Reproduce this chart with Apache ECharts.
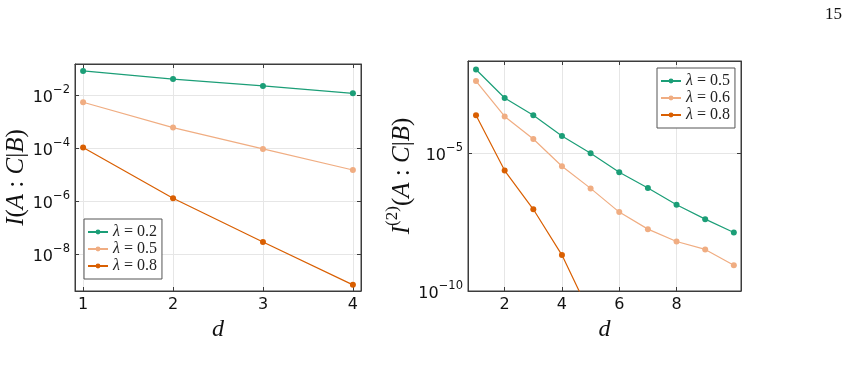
<!DOCTYPE html>
<html>
<head>
<meta charset="utf-8">
<script src="https://cdn.jsdelivr.net/npm/echarts@6/dist/echarts.min.js"></script>
<style>
  html, body { margin: 0; padding: 0; background: #fff; }
  #chart { width: 850px; height: 371px; }
</style>
</head>
<body>
<div id="chart"></div>
<script>
// left panel: I(A:C|B) vs d
const dLeft = [1, 2, 3, 4];
const leftNames = ['λ = 0.2', 'λ = 0.5', 'λ = 0.8'];
const leftL02 = [0.081, 0.040, 0.022, 0.0116];
const leftL05 = [5.3e-3, 5.9e-4, 9.2e-5, 1.47e-5];
const leftL08 = [1.05e-4, 1.26e-6, 2.8e-8, 6.8e-10];

// right panel: I^(2)(A:C|B) vs d
const dRight = [1, 2, 3, 4, 5, 6, 7, 8, 9, 10];
const rightNames = ['λ = 0.5', 'λ = 0.6', 'λ = 0.8'];
const rightL05 = [1.05e-2, 9.8e-4, 2.3e-4, 4.1e-5, 9.8e-6, 2.0e-6, 5.4e-7, 1.32e-7, 4.0e-8, 1.32e-8];
const rightL06 = [4.0e-3, 2.1e-4, 3.2e-5, 3.3e-6, 5.2e-7, 7.2e-8, 1.74e-8, 6.2e-9, 3.2e-9, 8.5e-10];
const rightL08 = [2.3e-4, 2.3e-6, 9.1e-8, 2.0e-9, 1.35e-11, null, null, null, null, null];

const leftYTicks = [-8, -6, -4, -2];
const rightYTicks = [-10, -5];
const leftXTicks = [1, 2, 3, 4];
const rightXTicks = [2, 4, 6, 8];

const colors = ['#1b9e77', '#f0ad82', '#d95f02'];
const serif = 'Liberation Serif';
const sans = 'DejaVu Sans';
const frame = '#3c3c3c';

function pairs(xs, ys) {
  return xs.map((x, i) => [x, ys[i] == null ? null : Math.log10(ys[i])]);
}

function powLabel(v) {
  const e = Math.round(v);
  return '{b|10}{s|' + (e < 0 ? '\u2212' : '') + Math.abs(e) + '}';
}

const powRich = {
  b: { fontFamily: sans, fontSize: 16, color: '#111', lineHeight: 22, verticalAlign: 'bottom' },
  s: { fontFamily: sans, fontSize: 11.5, color: '#111', lineHeight: 22, verticalAlign: 'top' }
};

const mathRich = {
  i: { fontFamily: serif, fontStyle: 'italic', fontSize: 25, color: '#111', lineHeight: 30, verticalAlign: 'bottom' },
  n: { fontFamily: serif, fontSize: 25, color: '#111', lineHeight: 30, verticalAlign: 'bottom' },
  sup: { fontFamily: serif, fontSize: 17, color: '#111', lineHeight: 30, verticalAlign: 'top' }
};

const legendRich = {
  i: { fontFamily: serif, fontStyle: 'italic', fontSize: 16, color: '#222' },
  n: { fontFamily: serif, fontSize: 16, color: '#222' }
};

function legendLabel(name) {
  const t = name.trim();
  return '{i|' + t.charAt(0) + '}{n|' + t.slice(1) + '}';
}

function xAxes(gridIndex, min, max, ticks) {
  return [{
    type: 'value', gridIndex, min, max,
    name: 'd', nameLocation: 'middle', nameGap: 22,
    nameTextStyle: { fontFamily: serif, fontStyle: 'italic', fontSize: 24, color: '#111' },
    axisLine: { show: true, lineStyle: { color: frame, width: 1 } },
    axisTick: { show: true, inside: true, length: 4, customValues: ticks, lineStyle: { color: frame } },
    axisLabel: { customValues: ticks, fontFamily: sans, fontSize: 16, color: '#111', margin: 6 },
    splitLine: { show: true, lineStyle: { color: '#e6e6e6', width: 1 } }
  }, {
    type: 'value', gridIndex, min, max, position: 'top',
    axisLine: { show: true, lineStyle: { color: frame, width: 1 } },
    axisTick: { show: true, inside: true, length: 4, customValues: ticks, lineStyle: { color: frame } },
    axisLabel: { show: false },
    splitLine: { show: false }
  }];
}

function yAxes(gridIndex, min, max, ticks, name, gap) {
  return [{
    type: 'value', gridIndex, min, max,
    name, nameLocation: 'middle', nameGap: gap, nameRotate: 90,
    nameTextStyle: { rich: mathRich },
    axisLine: { show: true, lineStyle: { color: frame, width: 1 } },
    axisTick: { show: true, inside: true, length: 4, customValues: ticks, lineStyle: { color: frame } },
    axisLabel: { customValues: ticks, formatter: powLabel, rich: powRich, margin: 5 },
    splitLine: { show: true, lineStyle: { color: '#e6e6e6', width: 1 } }
  }, {
    type: 'value', gridIndex, min, max, position: 'right',
    axisLine: { show: true, lineStyle: { color: frame, width: 1 } },
    axisTick: { show: true, inside: true, length: 4, customValues: ticks, lineStyle: { color: frame } },
    axisLabel: { show: false },
    splitLine: { show: false }
  }];
}

function lineSeries(name, data, color, axisIdx) {
  return {
    name, type: 'line', data,
    xAxisIndex: axisIdx, yAxisIndex: axisIdx,
    symbol: 'circle', symbolSize: 6,
    itemStyle: { color },
    lineStyle: { color, width: 1.2 },
    connectNulls: false,
    animation: false
  };
}

const chart = echarts.init(document.getElementById('chart'), null, { renderer: 'canvas' });

chart.setOption({
  backgroundColor: '#fff',
  animation: false,
  grid: [
    { left: 75, top: 64, width: 286, height: 227, show: true, borderColor: frame, borderWidth: 1 },
    { left: 468, top: 61, width: 273, height: 230, show: true, borderColor: frame, borderWidth: 1 }
  ],
  xAxis: [].concat(xAxes(0, 0.91, 4.09, leftXTicks), xAxes(1, 0.72, 10.25, rightXTicks)),
  yAxis: [].concat(
    yAxes(0, -9.4, -0.83, leftYTicks, '{i|I}{n|(}{i|A}{n| : }{i|C}{n||}{i|B}{n|)}', 45),
    yAxes(1, -10, -1.67, rightYTicks, '{i|I}{sup|(2)}{n|(}{i|A}{n| : }{i|C}{n||}{i|B}{n|)}', 53)
  ),
  legend: [{
    data: leftNames,
    left: 84, top: 219, orient: 'vertical',
    itemWidth: 20, itemHeight: 6, itemGap: 1,
    padding: [5, 5, 5, 3],
    borderColor: '#555', borderWidth: 1, backgroundColor: '#fff',
    textStyle: { rich: legendRich },
    formatter: legendLabel
  }, {
    data: rightNames.map(n => n + ' '),
    left: 657, top: 68, orient: 'vertical',
    itemWidth: 20, itemHeight: 6, itemGap: 1,
    padding: [5, 5, 5, 3],
    borderColor: '#555', borderWidth: 1, backgroundColor: '#fff',
    textStyle: { rich: legendRich },
    formatter: legendLabel
  }],
  graphic: [{
    type: 'text', left: 825, top: 6,
    style: { text: '15', fontFamily: serif, fontSize: 17, fill: '#111' }
  }],
  series: [
    lineSeries(leftNames[0], pairs(dLeft, leftL02), colors[0], 0),
    lineSeries(leftNames[1], pairs(dLeft, leftL05), colors[1], 0),
    lineSeries(leftNames[2], pairs(dLeft, leftL08), colors[2], 0),
    lineSeries(rightNames[0] + ' ', pairs(dRight, rightL05), colors[0], 2),
    lineSeries(rightNames[1] + ' ', pairs(dRight, rightL06), colors[1], 2),
    lineSeries(rightNames[2] + ' ', pairs(dRight, rightL08), colors[2], 2)
  ]
});
</script>
</body>
</html>
